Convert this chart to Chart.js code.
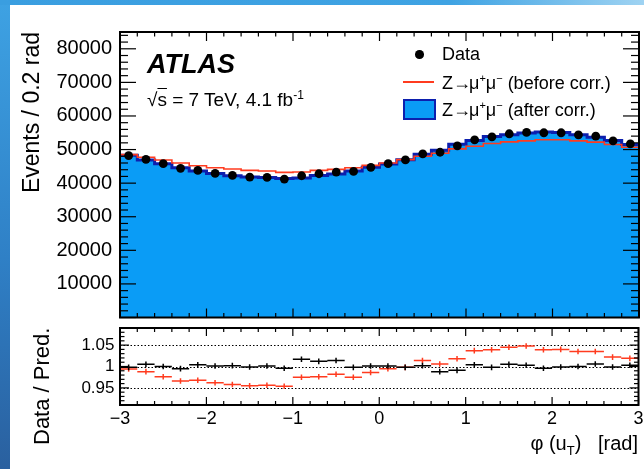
<!DOCTYPE html>
<html><head><meta charset="utf-8">
<script src="https://cdn.jsdelivr.net/npm/chart.js@4.4.1/dist/chart.umd.min.js"></script>
<style>
html,body{margin:0;padding:0;width:644px;height:469px;overflow:hidden;}
body{background:linear-gradient(180deg,#3ea2e3 0%,#2f80c6 55%,#2a609f 100%);position:relative;font-family:'Liberation Sans',Arial,Helvetica,sans-serif;}
#topstrip{position:absolute;left:0;top:0;width:644px;height:5px;background:linear-gradient(90deg,#3a9ee0 0%,#3fa3e3 70%,#9fd3f2 100%);}
#panel{position:absolute;left:10px;top:5px;right:0;bottom:0;background:#fff;}
.cv{position:absolute;left:0;}
.t{position:absolute;white-space:pre;color:#000;line-height:1;}
sup,sub{line-height:0;}
</style></head>
<body>
<div id="topstrip"></div>
<div id="panel"></div>
<canvas id="topc" class="cv" style="top:0" width="644" height="322"></canvas>
<canvas id="ratc" class="cv" style="top:322px" width="644" height="147"></canvas>

<div class="t" style="left:147px;top:51.4px;font-size:27px;font-weight:bold;font-style:italic;">ATLAS</div>
<div class="t" style="left:147px;top:90px;font-size:19px;">√<span style="text-decoration:overline">s</span> = 7 TeV, 4.1 fb<sup style="font-size:12px">-1</sup></div>

<div style="position:absolute;left:415px;top:50px;width:8.6px;height:8.6px;border-radius:50%;background:#000;"></div>
<div style="position:absolute;left:403px;top:81px;width:31px;height:2px;background:#ff3b1f;"></div>
<div style="position:absolute;left:402.5px;top:98.5px;width:33px;height:21px;box-sizing:border-box;border:2px solid #0c1fae;background:#0a9cf6;"></div>
<div class="t" style="left:442px;top:45.2px;font-size:18px;">Data</div>
<div class="t" style="left:442px;top:74px;font-size:18px;">Z<span style="font-family:'Liberation Sans',Arial;letter-spacing:-2px">→</span>μ<sup style="font-size:11px">+</sup>μ<sup style="font-size:11px">−</sup> (before corr.)</div>
<div class="t" style="left:442px;top:101px;font-size:18px;">Z<span style="font-family:'Liberation Sans',Arial;letter-spacing:-2px">→</span>μ<sup style="font-size:11px">+</sup>μ<sup style="font-size:11px">−</sup> (after corr.)</div>

<div class="t" style="left:42px;top:445px;font-size:22px;line-height:22px;transform-origin:0 0;transform:rotate(-90deg) translateY(-50%);">Data / Pred.</div>
<div class="t" style="right:6px;top:433px;font-size:20px;line-height:20px;">φ (u<sub style="font-size:13px">T</sub>)   [rad]</div>

<script>
// ---- data ----
const binCenters = [-2.9,-2.7,-2.5,-2.3,-2.1,-1.9,-1.7,-1.5,-1.3,-1.1,-0.9,-0.7,-0.5,-0.3,-0.1,0.1,0.3,0.5,0.7,0.9,1.1,1.3,1.5,1.7,1.9,2.1,2.3,2.5,2.7,2.9];
const binHalfWidth = 0.1;
const dataVals = [48200,47100,45800,44400,43800,42900,42300,41800,41700,41200,42200,42800,43300,43500,44700,45800,46900,48700,49200,51100,52900,53800,54700,55100,55000,55000,54400,54000,52600,51700];
const afterCorr = [48300,46900,45800,44600,43600,42900,42200,41800,41700,41400,41500,42300,42700,43600,44700,45700,47000,48600,49800,51600,52700,53900,54400,54900,55200,55100,54400,53700,52700,51500];
const beforeCorr = [48500,47700,46900,46000,45200,44600,44200,43800,43600,43200,43300,43800,44100,44600,45300,46000,47000,48000,48900,50200,51000,51800,52300,52600,52900,52900,52600,52200,51500,50700];
const ratioAfter = [0.998,1.005,1.000,0.995,1.004,1.001,1.002,0.999,1.001,0.996,1.017,1.012,1.014,0.998,1.001,1.001,0.998,1.002,0.988,0.991,1.004,0.998,1.005,1.003,0.996,0.999,1.000,1.006,0.999,1.003];
const ratioBefore = [0.994,0.988,0.976,0.966,0.968,0.962,0.958,0.955,0.956,0.954,0.975,0.976,0.982,0.975,0.986,0.995,0.998,1.014,1.006,1.018,1.037,1.039,1.045,1.048,1.039,1.040,1.035,1.035,1.022,1.019];
const yTickValues = [10000,20000,30000,40000,50000,60000,70000,80000];
const yTickLabels = ['10000','20000','30000','40000','50000','60000','70000','80000'];
const xTickValues = [-3,-2,-1,0,1,2,3];
const xTickLabels = ['−3','−2','−1','0','1','2','3'];
const ratioTickValues = [0.95,1,1.05];
const ratioTickLabels = ['0.95','1','1.05'];

const F = "'Liberation Sans', Arial, Helvetica, sans-serif";
const RED = '#ff3b1f', FILL = '#0a9cf6', NAVY = '#0c1fae';

function stepPts(vals){
  const pts = vals.map((v,i)=>({x: binCenters[i]-binHalfWidth, y: v}));
  pts.push({x: binCenters[vals.length-1]+binHalfWidth, y: vals[vals.length-1]});
  return pts;
}
function segPts(vals){
  const pts = [];
  vals.forEach((v,i)=>{
    pts.push({x: binCenters[i]-binHalfWidth, y: v});
    pts.push({x: binCenters[i]+binHalfWidth, y: v});
    pts.push({x: binCenters[i]+binHalfWidth, y: null});
  });
  return pts;
}
function ctrPts(vals){ return vals.map((v,i)=>({x: binCenters[i], y: v})); }
function noPad(s){ s.paddingTop=0; s.paddingBottom=0; s.paddingLeft=0; s.paddingRight=0; }

const framePlugin = {
  id: 'frame',
  beforeDatasetsDraw(chart, args, o){
    if(!o.dotted) return;
    const {ctx, chartArea:a, scales:{y}} = chart;
    ctx.save(); ctx.strokeStyle='#000'; ctx.lineWidth=1; ctx.setLineDash([1.5,2]);
    o.dotted.forEach(v=>{
      const py = Math.round(y.getPixelForValue(v))+0.5;
      ctx.beginPath(); ctx.moveTo(a.left,py); ctx.lineTo(a.right,py); ctx.stroke();
    });
    ctx.restore();
  },
  afterDraw(chart, args, o){
    const {ctx, chartArea:a, scales:{x,y}} = chart;
    ctx.save(); ctx.strokeStyle='#000'; ctx.lineWidth=1.2;
    const tick=(px,py,dx,dy)=>{ctx.beginPath();ctx.moveTo(px,py);ctx.lineTo(px+dx,py+dy);ctx.stroke();};
    for(let i=0;i<=30;i++){
      const px = x.getPixelForValue(-3+i*0.2);
      const L = (i%5===0)? o.xMajor : o.xMinor;
      tick(px,a.bottom,0,-L); tick(px,a.top,0,L);
    }
    const n = Math.round((o.yMax-o.yMin)/o.yMinorStep);
    for(let i=0;i<=n;i++){
      const v = o.yMin + i*o.yMinorStep;
      const r = v/o.yMajorStep;
      const major = Math.abs(r-Math.round(r))<1e-6;
      const py = y.getPixelForValue(v);
      const L = major? o.yMajor : o.yMinor;
      tick(a.left,py,L,0); tick(a.right,py,-L,0);
    }
    ctx.lineWidth=2;
    ctx.strokeRect(a.left,a.top,a.right-a.left,a.bottom-a.top);
    ctx.restore();
  }
};

new Chart(document.getElementById('topc'), {
  type:'scatter',
  data:{datasets:[
    {data: ctrPts(dataVals), showLine:false, pointRadius:4.4, pointBackgroundColor:'#000', pointBorderWidth:0, order:0},
    {data: stepPts(beforeCorr), showLine:true, stepped:true, borderColor:RED, borderWidth:1.6, pointRadius:0, fill:false, order:1},
    {data: stepPts(afterCorr), showLine:true, stepped:true, borderColor:NAVY, borderWidth:3, backgroundColor:FILL, fill:'origin', pointRadius:0, order:2}
  ]},
  options:{
    responsive:false, animation:false, events:[],
    layout:{padding:{left:0,right:5,top:32,bottom:4.5}},
    plugins:{legend:{display:false},tooltip:{enabled:false},
      frame:{xMajor:9,xMinor:4.5,yMin:0,yMax:84000,yMinorStep:2000,yMajorStep:10000,yMajor:16,yMinor:8}},
    scales:{
      x:{type:'linear',min:-3,max:3,display:false, afterFit:noPad},
      y:{min:0,max:85000,
        afterFit(s){s.width=120; noPad(s);},
        afterBuildTicks(s){s.ticks=yTickValues.map(v=>({value:v}));},
        ticks:{font:{size:20,family:F},color:'#000',padding:8,callback:(v,i)=>yTickLabels[i]},
        grid:{display:false,drawTicks:false}, border:{display:false},
        title:{display:true,text:'Events / 0.2 rad',align:'end',color:'#000',font:{size:23,family:F},padding:{top:19.2,bottom:0}}
      }
    }
  },
  plugins:[framePlugin]
});

new Chart(document.getElementById('ratc'), {
  type:'scatter',
  data:{datasets:[
    {data: segPts(ratioAfter), showLine:true, spanGaps:false, borderColor:'#000', borderWidth:1.5, pointRadius:0, order:0},
    {data: ctrPts(ratioAfter), showLine:false, pointStyle:'line', rotation:90, pointRadius:2.8, pointBorderColor:'#000', pointBorderWidth:1.5, order:1},
    {data: segPts(ratioBefore), showLine:true, spanGaps:false, borderColor:RED, borderWidth:1.5, pointRadius:0, order:2},
    {data: ctrPts(ratioBefore), showLine:false, pointStyle:'line', rotation:90, pointRadius:2.8, pointBorderColor:RED, pointBorderWidth:1.5, order:3}
  ]},
  options:{
    responsive:false, animation:false, events:[],
    layout:{padding:{left:0,right:5,top:6,bottom:0}},
    plugins:{legend:{display:false},tooltip:{enabled:false},
      frame:{xMajor:8,xMinor:4,yMin:0.91,yMax:1.09,yMinorStep:0.01,yMajorStep:0.05,yMajor:9,yMinor:4.5,dotted:ratioTickValues}},
    scales:{
      x:{type:'linear',min:-3,max:3,
        afterFit(s){s.height=64; noPad(s);},
        afterBuildTicks(s){s.ticks=xTickValues.map(v=>({value:v}));},
        ticks:{font:{size:18,family:F},color:'#000',padding:3,maxRotation:0,autoSkip:false,callback:(v,i)=>xTickLabels[i]},
        grid:{display:false,drawTicks:false}, border:{display:false}
      },
      y:{min:0.91,max:1.09,
        afterFit(s){s.width=120; noPad(s);},
        afterBuildTicks(s){s.ticks=ratioTickValues.map(v=>({value:v}));},
        ticks:{font:{size:17,family:F},color:'#000',padding:5.5,callback:(v,i)=>ratioTickLabels[i]},
        grid:{display:false,drawTicks:false}, border:{display:false}
      }
    }
  },
  plugins:[framePlugin]
});
</script>
</body></html>
